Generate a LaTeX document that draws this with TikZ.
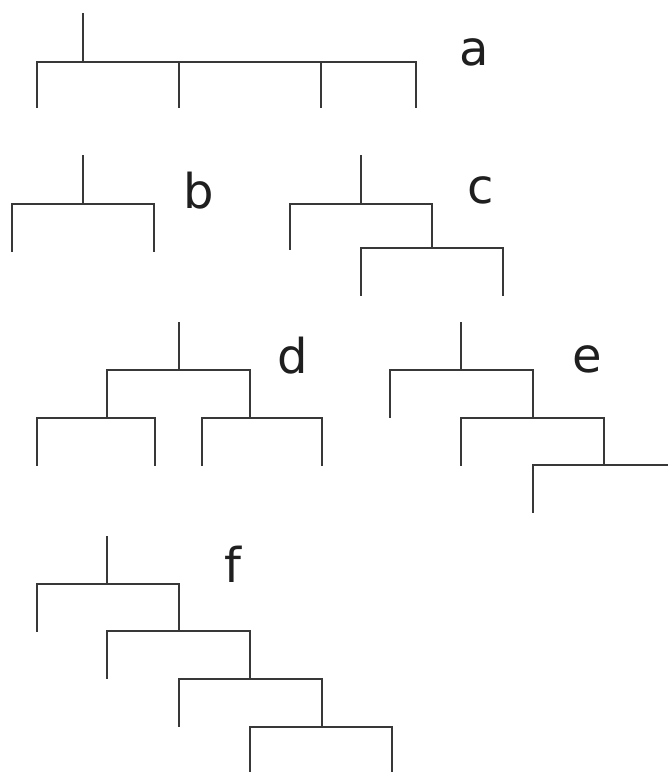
\documentclass[tikz,border=0pt]{standalone}
\usepackage{fontspec}
\setmainfont{DejaVu Sans}
\usetikzlibrary{positioning}
\tikzset{
  branch/.style={line width=2pt,draw=black!78},
  lbl/.style={font=\fontsize{48}{48}\selectfont,text=black!88,inner sep=0pt,anchor=base}
}

\begin{document}
\begin{tikzpicture}[x=1pt,y=-1pt]
  \useasboundingbox (0,0) rectangle (668,772);

  % tree a: one node, four children
  \coordinate (atop) at (83,13);
  \coordinate (ajoin) at (83,62);
  \foreach \x [count=\i] in {37,179,321,416}
    \coordinate (a\i) at (\x,108);
  \draw[branch] (atop) -- (ajoin);
  \draw[branch] (ajoin) -| (a1) (ajoin) -| (a4);
  \foreach \i in {2,3}
    \draw[branch] (a\i |- ajoin) -- (a\i);
  \node[lbl] (alabel) at (474,65) {a};

  % tree b
  \coordinate (btop) at (83,155);
  \coordinate (bjoin) at (83,204);
  \coordinate (b1) at (12,252);
  \coordinate (b2) at (154,252);
  \draw[branch] (btop) -- (bjoin);
  \draw[branch] (bjoin) -| (b1) (bjoin) -| (b2);
  \node[lbl] (blabel) at (199,208) {b};

  % tree c
  \coordinate (ctop) at (361,155);
  \coordinate (cjoin) at (361,204);
  \coordinate (c1) at (290,250);
  \coordinate (cin) at (432,248);
  \coordinate (c2) at (361,296);
  \coordinate (c3) at (503,296);
  \draw[branch] (ctop) -- (cjoin);
  \draw[branch] (cjoin) -| (c1) (cjoin) -| (cin);
  \draw[branch] (cin) -| (c2) (cin) -| (c3);
  \node[lbl] (clabel) at (481,203) {c};

  % tree d
  \coordinate (dtop) at (179,322);
  \coordinate (djoin) at (179,370);
  \coordinate (dinl) at (107,418);
  \coordinate (dinr) at (250,418);
  \foreach \x [count=\i] in {37,155,202,322}
    \coordinate (d\i) at (\x,466);
  \draw[branch] (dtop) -- (djoin);
  \draw[branch] (djoin) -| (dinl) (djoin) -| (dinr);
  \draw[branch] (dinl) -| (d1) (dinl) -| (d2);
  \draw[branch] (dinr) -| (d3) (dinr) -| (d4);
  \node[lbl] (dlabel) at (293,373) {d};

  % tree e
  \coordinate (etop) at (461,322);
  \coordinate (ejoin) at (461,370);
  \coordinate (e1) at (390,418);
  \coordinate (ein1) at (533,418);
  \coordinate (e2) at (461,466);
  \coordinate (ein2) at (604,465);
  \coordinate (e3) at (533,513);
  \coordinate (eend) at (670,465);
  \draw[branch] (etop) -- (ejoin);
  \draw[branch] (ejoin) -| (e1) (ejoin) -| (ein1);
  \draw[branch] (ein1) -| (e2) (ein1) -| (ein2);
  \draw[branch] (ein2) -| (e3) (ein2) -- (eend);
  \node[lbl] (elabel) at (587,372) {e};

  % tree f
  \coordinate (ftop) at (107,536);
  \coordinate (fjoin) at (107,584);
  \coordinate (f1) at (37,632);
  \coordinate (fin1) at (179,631);
  \coordinate (f2) at (107,679);
  \coordinate (fin2) at (250,679);
  \coordinate (f3) at (179,727);
  \coordinate (fin3) at (322,727);
  \coordinate (f4) at (250,774);
  \coordinate (f5) at (392,774);
  \draw[branch] (ftop) -- (fjoin);
  \draw[branch] (fjoin) -| (f1) (fjoin) -| (fin1);
  \draw[branch] (fin1) -| (f2) (fin1) -| (fin2);
  \draw[branch] (fin2) -| (f3) (fin2) -| (fin3);
  \draw[branch] (fin3) -| (f4) (fin3) -| (f5);
  \node[lbl] (flabel) at (233,582) {f};
\end{tikzpicture}
\end{document}
